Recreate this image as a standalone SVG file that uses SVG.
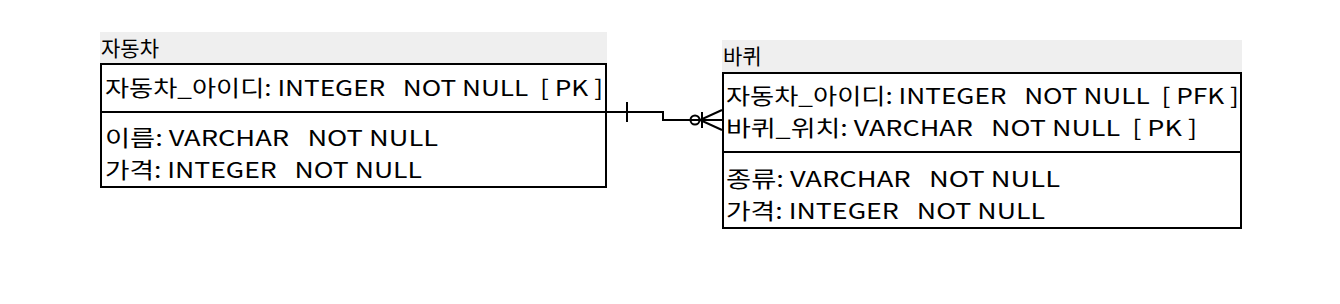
<svg xmlns="http://www.w3.org/2000/svg" width="1340" height="304" viewBox="0 0 1340 304">
<style>
.t{font-family:"Noto Sans CJK KR","Noto Sans",sans-serif;font-size:22px;fill:#000;white-space:pre}
.h{font-family:"Noto Sans CJK KR","Noto Sans",sans-serif;font-size:21px;fill:#000}
.b{fill:#fff;stroke:#000;stroke-width:2}
.ln{fill:none;stroke:#000;stroke-width:2}
</style>
<rect width="1340" height="304" fill="#fff"/>
<g id="car">
<rect x="100" y="32" width="507" height="31" fill="#efefef"/>
<text class="h" x="101" y="56">자동차</text>
<rect class="b" x="101" y="64" width="505" height="48"/>
<rect class="b" x="101" y="112" width="505" height="75"/>
<text class="t" x="105" y="96" xml:space="preserve" textLength="498" lengthAdjust="spacingAndGlyphs">자동차_아이디: INTEGER   NOT NULL  [ PK ]</text>
<text class="t" x="105" y="146" xml:space="preserve" textLength="333" lengthAdjust="spacingAndGlyphs">이름: VARCHAR   NOT NULL</text>
<text class="t" x="105" y="178" xml:space="preserve" textLength="317" lengthAdjust="spacingAndGlyphs">가격: INTEGER   NOT NULL</text>
</g>
<g id="wheel">
<rect x="722" y="40" width="520" height="32" fill="#efefef"/>
<text class="h" x="723" y="64">바퀴</text>
<rect class="b" x="723" y="73" width="518" height="79"/>
<rect class="b" x="723" y="152" width="518" height="76"/>
<text class="t" x="726" y="104" xml:space="preserve" textLength="513" lengthAdjust="spacingAndGlyphs">자동차_아이디: INTEGER   NOT NULL  [ PFK ]</text>
<text class="t" x="726" y="136" xml:space="preserve" textLength="471" lengthAdjust="spacingAndGlyphs">바퀴_위치: VARCHAR   NOT NULL  [ PK ]</text>
<text class="t" x="726" y="187" xml:space="preserve" textLength="334" lengthAdjust="spacingAndGlyphs">종류: VARCHAR   NOT NULL</text>
<text class="t" x="726" y="219" xml:space="preserve" textLength="319" lengthAdjust="spacingAndGlyphs">가격: INTEGER   NOT NULL</text>
</g>
<g id="connectors">
<path class="ln" d="M606 112 H663 V120 H723"/>
<path class="ln" d="M627 102 V122"/>
<circle class="ln" cx="695" cy="120" r="4.5"/>
<path class="ln" d="M702 112 V128"/>
<path class="ln" d="M722 110 L700 120 L722 130"/>
</g>
</svg>
